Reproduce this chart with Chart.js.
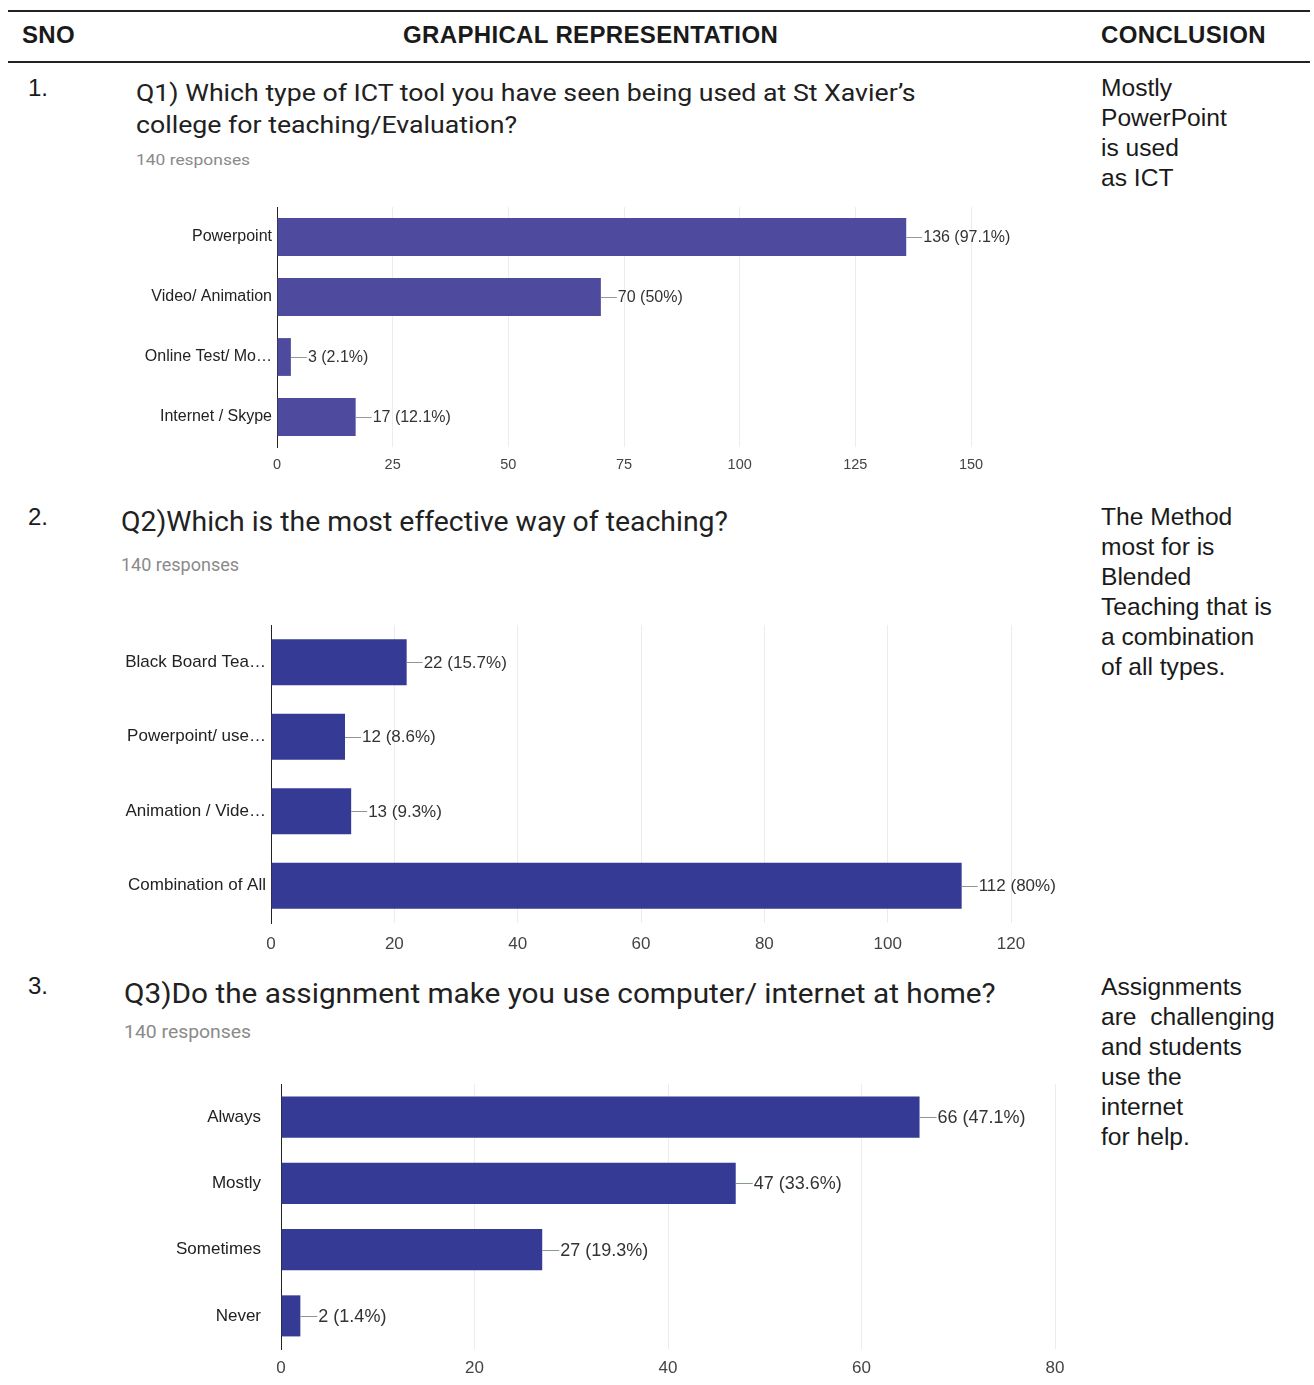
<!DOCTYPE html>
<html>
<head>
<meta charset="utf-8">
<script src="https://cdn.jsdelivr.net/npm/chart.js@4"></script>
<style>
  body { margin: 0; background: #fff; width: 1314px; height: 1385px; position: relative; overflow: hidden; font-family: "Liberation Sans", Arial, sans-serif; color: #1a1a1a; }
  .abs { position: absolute; white-space: nowrap; transform-origin: 0 0; }
  .rule { position: absolute; left: 8px; width: 1302px; background: #222; }
  .head { font-weight: bold; font-size: 24px; line-height: 28px; top: 21px; letter-spacing: 0.35px; }
  .sno { font-size: 24px; line-height: 28px; left: 28px; }
  .concl { font-size: 24.6px; line-height: 30px; left: 1101px; }
  .title { font-family: Roboto, sans-serif; color: #212121; }
  .resp { font-family: Roboto, sans-serif; color: #8a8a8a; }
  canvas { position: absolute; }
</style>
</head>
<body>
<div class="rule" style="top:10px;height:2px"></div>
<div class="abs head" style="left:22px">SNO</div>
<div class="abs head" style="left:403px">GRAPHICAL REPRESENTATION</div>
<div class="abs head" style="left:1101px">CONCLUSION</div>
<div class="rule" style="top:61px;height:2px"></div>

<div class="abs sno" style="top:74px">1.</div>
<div class="abs sno" style="top:503px">2.</div>
<div class="abs sno" style="top:972px">3.</div>

<div class="abs title" style="left:136px;top:78px;font-size:23px;line-height:32px;transform:scaleX(1.16)">Q1) Which type of ICT tool you have seen being used at St Xavier’s<br>college for teaching/Evaluation?</div>
<div class="abs resp" style="left:136px;top:152px;font-size:14.5px;line-height:18px;transform:scaleX(1.2)">140 responses</div>
<div class="abs title" style="left:121px;top:505px;font-size:28.4px;line-height:34px">Q2)Which is the most effective way of teaching?</div>
<div class="abs resp" style="left:121px;top:554px;font-size:18px;line-height:22px">140 responses</div>
<div class="abs title" style="left:124px;top:977px;font-size:28px;line-height:34px;transform:scaleX(1.063)">Q3)Do the assignment make you use computer/ internet at home?</div>
<div class="abs resp" style="left:124px;top:1021px;font-size:18px;line-height:22px;transform:scaleX(1.077)">140 responses</div>

<div class="abs concl" style="top:73px">Mostly<br>PowerPoint<br>is used<br>as ICT</div>
<div class="abs concl" style="top:502px">The Method<br>most for is<br>Blended<br>Teaching that is<br>a combination<br>of all types.</div>
<div class="abs concl" style="top:972px">Assignments<br>are&nbsp; challenging<br>and students<br>use the<br>internet<br>for help.</div>

<canvas id="c1" width="900" height="280" style="left:130px;top:200px"></canvas>
<canvas id="c2" width="960" height="350" style="left:110px;top:610px"></canvas>
<canvas id="c3" width="920" height="310" style="left:150px;top:1075px"></canvas>

<script>
const totalResponses = 140;

const q1Labels = ['Powerpoint', 'Video/ Animation', 'Online Test/ Mo…', 'Internet / Skype'];
const q1Values = [136, 70, 3, 17];

const q2Labels = ['Black Board Tea…', 'Powerpoint/ use…', 'Animation / Vide…', 'Combination of All'];
const q2Values = [22, 12, 13, 112];

const q3Labels = ['Always', 'Mostly', 'Sometimes', 'Never'];
const q3Values = [66, 47, 27, 2];

const q1Ticks = [0, 25, 50, 75, 100, 125, 150];
const q2Ticks = [0, 20, 40, 60, 80, 100, 120];
const q3Ticks = [0, 20, 40, 60, 80];

const font = 'Liberation Sans, Arial, sans-serif';

// draws "value (pct%)" with a short leader line at the end of each bar
const valueLabels = {
  id: 'valueLabels',
  afterDatasetsDraw(chart, args, opts) {
    const ctx = chart.ctx;
    const data = chart.data.datasets[0].data;
    ctx.save();
    chart.getDatasetMeta(0).data.forEach((bar, i) => {
      const v = data[i];
      const pct = +(v / totalResponses * 100).toFixed(1);
      ctx.strokeStyle = opts.lineColor;
      ctx.lineWidth = 1;
      ctx.beginPath();
      ctx.moveTo(bar.x, Math.round(bar.y) + 0.5);
      ctx.lineTo(bar.x + opts.lead, Math.round(bar.y) + 0.5);
      ctx.stroke();
      ctx.fillStyle = '#333';
      ctx.font = opts.size + 'px ' + font;
      ctx.textAlign = 'left';
      ctx.textBaseline = 'middle';
      ctx.fillText(v + ' (' + pct + '%)', bar.x + opts.lead + 1, bar.y + 1);
    });
    ctx.restore();
  }
};

function makeChart(id, labels, values, ticks, cfg) {
  return new Chart(document.getElementById(id), {
    type: 'bar',
    data: {
      labels: labels,
      datasets: [{
        data: values,
        backgroundColor: cfg.color,
        borderWidth: 0,
        categoryPercentage: 1,
        barPercentage: cfg.barPct
      }]
    },
    options: {
      indexAxis: 'y',
      responsive: false,
      animation: false,
      events: [],
      layout: { padding: cfg.padding },
      plugins: {
        legend: { display: false },
        tooltip: { enabled: false },
        valueLabels: { lineColor: cfg.lineColor, lead: cfg.lead, size: cfg.valueSize }
      },
      scales: {
        x: {
          min: ticks[0],
          max: ticks[ticks.length - 1],
          afterBuildTicks: (s) => { s.ticks = ticks.map(v => ({ value: v })); },
          afterFit: (s) => { s.height = cfg.xHeight; s.paddingLeft = 0; s.paddingRight = 0; },
          grid: { color: '#ececec', drawTicks: false },
          border: { display: false },
          ticks: { padding: cfg.tickPad, color: '#444', font: { family: font, size: cfg.tickSize } }
        },
        y: {
          afterFit: (s) => { s.width = cfg.yWidth; s.paddingTop = 0; s.paddingBottom = 0; },
          grid: { display: false, drawTicks: false },
          border: { display: true, color: '#222', width: 1 },
          ticks: { padding: cfg.labelPad, color: '#222', font: { family: font, size: cfg.labelSize } }
        }
      }
    },
    plugins: [valueLabels]
  });
}

makeChart('c1', q1Labels, q1Values, q1Ticks, {
  color: '#4e4a9d', barPct: 0.63, padding: { left: 0, right: 59, top: 7, bottom: 0 },
  yWidth: 147, xHeight: 33, tickPad: 9, tickSize: 14.5, labelSize: 16, labelPad: 5,
  lineColor: '#999', lead: 16, valueSize: 16
});

makeChart('c2', q2Labels, q2Values, q2Ticks, {
  color: '#353a94', barPct: 0.62, padding: { left: 0, right: 59, top: 15, bottom: 0 },
  yWidth: 161, xHeight: 37, tickPad: 11, tickSize: 17, labelSize: 17, labelPad: 5,
  lineColor: '#8a9a8a', lead: 16, valueSize: 17
});

makeChart('c3', q3Labels, q3Values, q3Ticks, {
  color: '#353a94', barPct: 0.62, padding: { left: 0, right: 15, top: 9, bottom: 0 },
  yWidth: 131, xHeight: 36, tickPad: 9, tickSize: 17, labelSize: 17, labelPad: 20,
  lineColor: '#8a9a8a', lead: 17, valueSize: 18
});
</script>
</body>
</html>
